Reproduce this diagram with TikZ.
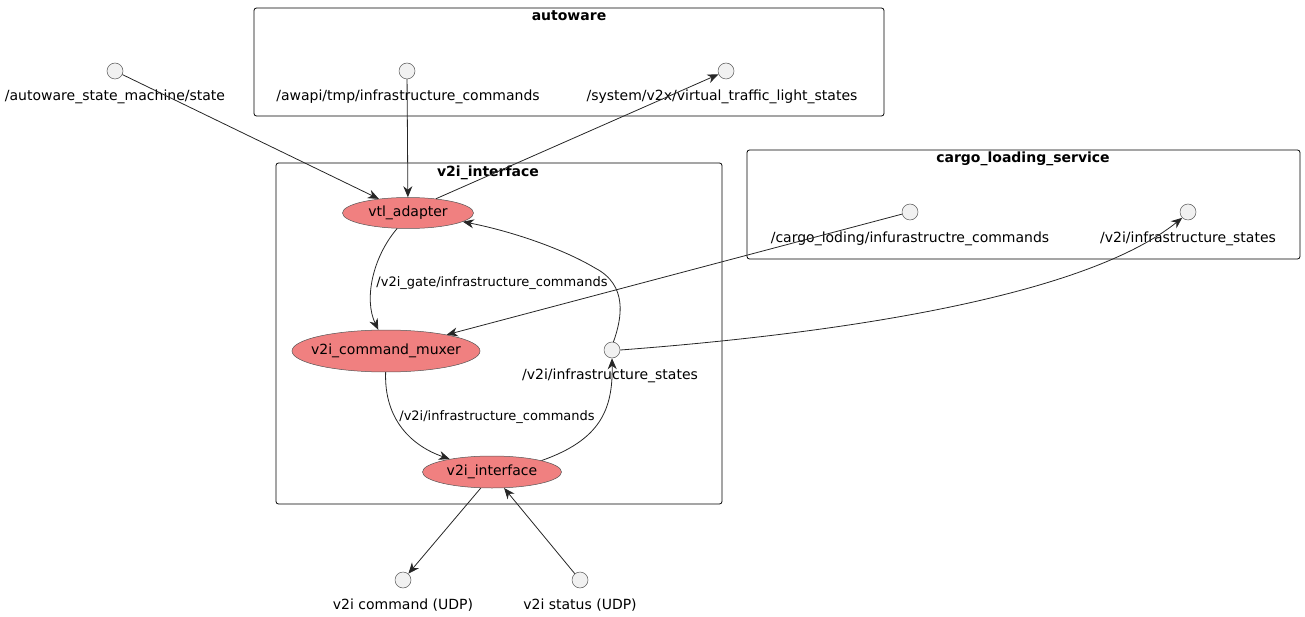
\documentclass[tikz,border=0pt]{standalone}
\usepackage{fontspec}
\setmainfont{DejaVu Sans}
\usetikzlibrary{arrows.meta,shapes.geometric}
\definecolor{nodefill}{HTML}{F08080}
\definecolor{ifill}{HTML}{F1F1F1}
\definecolor{iborder}{HTML}{555555}
\tikzset{
  grp/.style={draw=black,line width=0.8pt,rounded corners=2.5pt},
  grptitle/.style={font=\fontsize{14}{16}\selectfont\bfseries,anchor=center},
  comp/.style={ellipse,draw=iborder,line width=0.5pt,fill=nodefill,inner sep=0pt,font=\fontsize{14}{16}\selectfont},
  iface/.style={circle,draw=iborder,line width=0.5pt,fill=ifill,minimum size=16pt,inner sep=0pt},
  ilabel/.style={font=\fontsize{14}{16}\selectfont,anchor=center},
  elabel/.style={font=\fontsize{13}{15}\selectfont,anchor=center},
  conn/.style={draw=black!85,line width=0.8pt,-{Stealth[length=11pt,width=9pt,inset=3.5pt]}},
}
\begin{document}
\begin{tikzpicture}[x=1pt,y=-1pt]
\useasboundingbox (0,0) rectangle (1305,617);
% groups
\draw[grp] (254,8) rectangle (884,116);
\node[grptitle] (tAw) at (569,16) {autoware};
\draw[grp] (276,163) rectangle (722,504);
\node[grptitle] (tV2i) at (488,173) {v2i\_interface};
\draw[grp] (747,150) rectangle (1300,259);
\node[grptitle] (tCargo) at (1023,159) {cargo\_loading\_service};
% interfaces
\node[iface] (ism) at (115,71) {};
\node[ilabel] (lsm) at (115,96.5) {/autoware\_state\_machine/state};
\node[iface] (iaw) at (407,71) {};
\node[ilabel] (law) at (408,96.5) {/awapi/tmp/infrastructure\_commands};
\node[iface] (isys) at (726,71) {};
\node[ilabel] (lsys) at (722,96.5) {/system/v2x/virtual\_traffic\_light\_states};
\node[iface] (icargo) at (910,212) {};
\node[ilabel] (lcargo) at (910,238.5) {/cargo\_loding/infurastructre\_commands};
\node[iface] (iv2s) at (1188,212) {};
\node[ilabel] (lv2s) at (1188,238.5) {/v2i/infrastructure\_states};
\node[iface] (iin) at (612,350) {};
\node[ilabel] (lin) at (610,376) {/v2i/infrastructure\_states};
\node[iface] (icmd) at (403,580) {};
\node[ilabel] (lcmd) at (403,605.5) {v2i command (UDP)};
\node[iface] (ist) at (580,580) {};
\node[ilabel] (lst) at (580,605.5) {v2i status (UDP)};
% components
\node[comp,minimum width=131pt,minimum height=31pt] (vtl) at (408,213) {\makebox[0pt]{vtl\_adapter}};
\node[comp,minimum width=188pt,minimum height=42pt] (mux) at (386,351) {\makebox[0pt]{v2i\_command\_muxer}};
\node[comp,minimum width=139pt,minimum height=32pt] (v2i) at (492,472) {\makebox[0pt]{v2i\_interface}};
% connectors
\draw[conn] (ism) -- (vtl);
\draw[conn] (iaw) -- (vtl);
\draw[conn] (vtl.27) -- (isys);
\draw[conn] (vtl.-125) .. controls (372,258) and (364,300) .. (mux.110);
\node[elabel] (e1) at (492,283) {/v2i\_gate/infrastructure\_commands};
\draw[conn] (icargo) -- (mux.15);
\draw[conn] (mux.-91) .. controls (384,420) and (412,446) .. (v2i.163);
\node[elabel] (e2) at (497,417) {/v2i/infrastructure\_commands};
\draw[conn] (v2i.13) .. controls (600,440) and (613,410) .. (iin.south);
\draw[conn] (iin.80) .. controls (622,318) and (628,285) .. (595,268) .. controls (565,250) and (515,232) .. (vtl.-9);
\draw[conn] (iin.east) .. controls (820,335) and (1080,300) .. (iv2s.225);
\draw[conn] (v2i.-125) -- (icmd);
\draw[conn] (ist) -- (v2i.-53);
\end{tikzpicture}
\end{document}
